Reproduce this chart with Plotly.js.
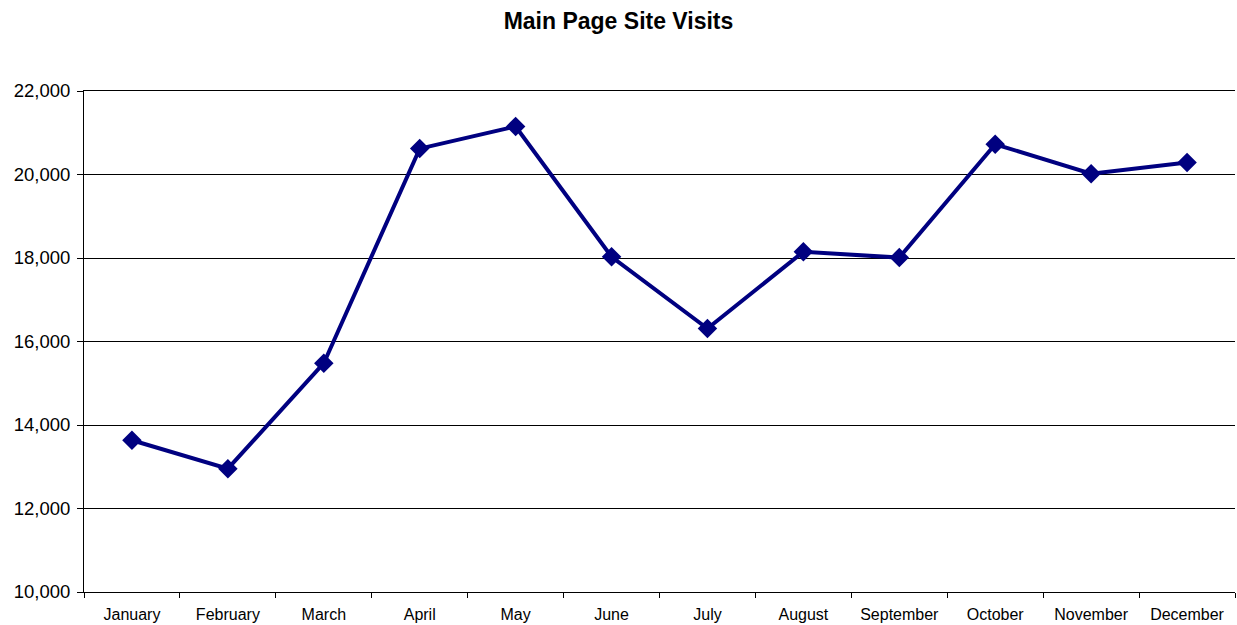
<!DOCTYPE html>
<html>
<head>
<meta charset="utf-8">
<script src="https://cdn.plot.ly/plotly-3.0.1.min.js"></script>
<style>
  html, body { margin: 0; padding: 0; background: #fff; }
  #chart { width: 1237px; height: 625px; }
</style>
</head>
<body>
<div id="chart"></div>
<script>
const months = ['January', 'February', 'March', 'April', 'May', 'June',
  'July', 'August', 'September', 'October', 'November', 'December'];
const visits = [13635, 12955, 15480, 20620, 21150, 18030,
  16310, 18150, 18010, 20725, 20020, 20285];
const yTicks = [10000, 12000, 14000, 16000, 18000, 20000, 22000];

const trace = {
  x: months,
  y: visits,
  type: 'scatter',
  mode: 'lines+markers',
  line: { color: '#000080', width: 4 },
  marker: { symbol: 'diamond', size: 15, color: '#000080' },
  hoverinfo: 'x+y'
};

const layout = {
  width: 1237,
  height: 625,
  margin: { l: 84, r: 2, t: 91, b: 33 },
  paper_bgcolor: '#fff',
  plot_bgcolor: '#fff',
  font: { family: 'Liberation Sans, Arial, sans-serif', size: 15, color: '#000' },
  title: {
    text: '<b>Main Page Site Visits</b>',
    font: { size: 23, color: '#000' },
    x: 0.5, xanchor: 'center',
    y: 0.966, yanchor: 'middle'
  },
  showlegend: false,
  xaxis: {
    type: 'category',
    range: [-0.5, 11.5],
    showgrid: false,
    zeroline: false,
    showline: true,
    mirror: true,
    linecolor: '#000',
    linewidth: 1,
    ticks: 'outside',
    tickson: 'boundaries',
    ticklen: 5,
    tickcolor: '#000',
    ticklabelstandoff: 8,
    tickfont: { size: 16 },
    fixedrange: true
  },
  yaxis: {
    range: [10000, 22000],
    tickvals: yTicks,
    tickformat: ',d',
    showgrid: true,
    gridcolor: '#000',
    gridwidth: 1,
    zeroline: false,
    showline: true,
    linecolor: '#000',
    linewidth: 1,
    ticks: 'outside',
    ticklen: 6,
    tickcolor: '#000',
    ticklabelstandoff: 3,
    tickfont: { size: 18.5 },
    fixedrange: true
  }
};

Plotly.newPlot('chart', [trace], layout, { displayModeBar: false, staticPlot: true });
</script>
</body>
</html>
